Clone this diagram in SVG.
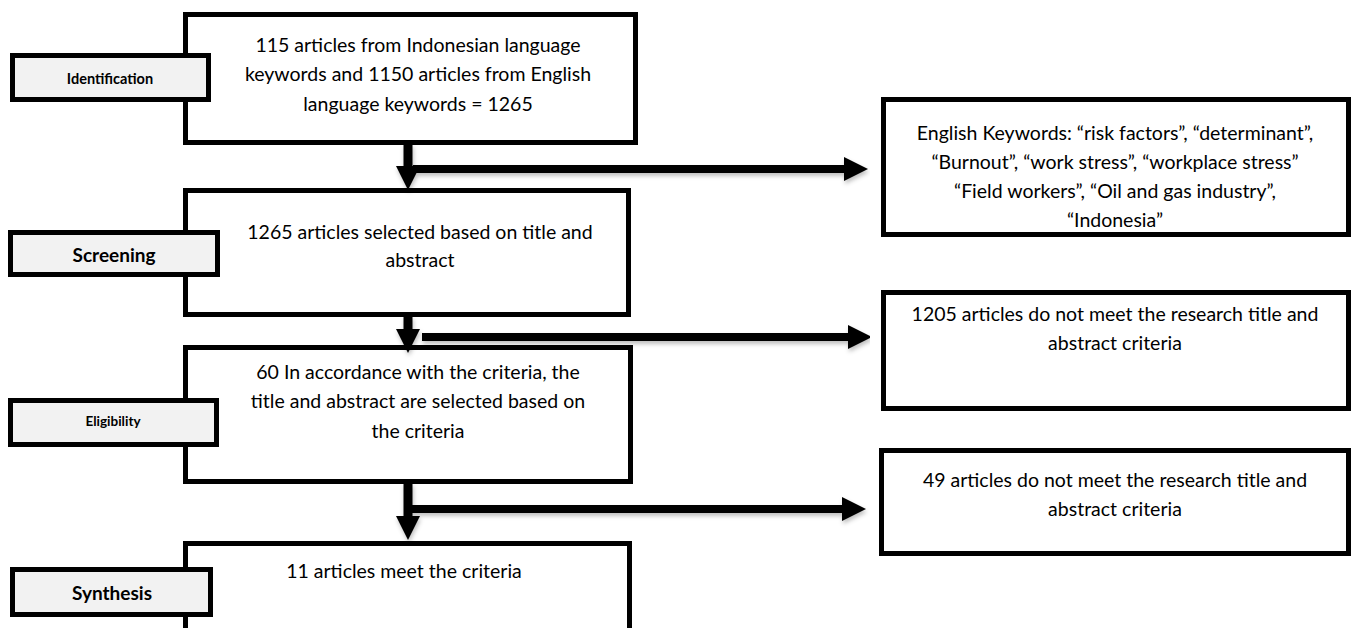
<svg xmlns="http://www.w3.org/2000/svg" width="1357" height="628" viewBox="0 0 1357 628">
<style>
.box{fill:#fff;stroke:#000;stroke-width:5}
.lab{fill:#f2f2f2;stroke:#000;stroke-width:5}
.t{font-family:Lato,"Liberation Sans",sans-serif;font-size:19.5px;fill:#000;text-anchor:middle;dominant-baseline:central}
.b{font-family:Lato,"Liberation Sans",sans-serif;font-weight:bold;fill:#000;text-anchor:middle;dominant-baseline:central}
.c{stroke:#000;fill:none}
</style>
<defs>
<marker id="ah" markerUnits="userSpaceOnUse" markerWidth="24" markerHeight="24" refX="0" refY="12" orient="auto" viewBox="0 0 24 24">
<path d="M0,0 L24,12 L0,24 z" fill="#000"/>
</marker>
<filter id="sh" x="-5%" y="-20%" width="110%" height="160%">
<feDropShadow dx="1" dy="3" stdDeviation="2" flood-color="#000" flood-opacity="0.25"/>
</filter>
</defs>
<rect width="1357" height="628" fill="#fff"/>

<g id="n1">
<rect class="box" x="185.5" y="14.5" width="450" height="128"/>
<text class="t" x="418" y="44">115 articles from Indonesian language</text>
<text class="t" x="418" y="73">keywords and 1150 articles from English</text>
<text class="t" x="418" y="103">language keywords = 1265</text>
</g>
<g id="l1">
<rect class="lab" x="12.5" y="55.5" width="196" height="44"/>
<text class="b" x="110" y="78" font-size="14.5">Identification</text>
</g>

<g id="n2">
<rect class="box" x="185.5" y="190.5" width="443" height="124"/>
<text class="t" x="420" y="231">1265 articles selected based on title and</text>
<text class="t" x="420" y="259">abstract</text>
</g>
<g id="l2">
<rect class="lab" x="10.5" y="232.5" width="207" height="42"/>
<text class="b" x="114" y="254" font-size="19">Screening</text>
</g>

<g id="n3">
<rect class="box" x="185.5" y="347.5" width="445" height="134"/>
<text class="t" x="418" y="371">60 In accordance with the criteria, the</text>
<text class="t" x="418" y="400">title and abstract are selected based on</text>
<text class="t" x="418" y="430">the criteria</text>
</g>
<g id="l3">
<rect class="lab" x="10.5" y="400.5" width="206" height="44"/>
<text class="b" x="113" y="421" font-size="13.5">Eligibility</text>
</g>

<g id="n4">
<path class="box" d="M185.5,640 L185.5,543.5 L629.5,543.5 L629.5,640"/>
<text class="t" x="404" y="570">11 articles meet the criteria</text>
</g>
<g id="l4">
<rect class="lab" x="12.5" y="569.5" width="198" height="45"/>
<text class="b" x="112" y="592" font-size="19">Synthesis</text>
</g>

<g id="r1">
<rect class="box" x="883.5" y="99.5" width="465" height="135"/>
<text class="t" x="1115" y="132">English Keywords: “risk factors”, “determinant”,</text>
<text class="t" x="1115" y="161">“Burnout”, “work stress”, “workplace stress”</text>
<text class="t" x="1115" y="190">“Field workers”, “Oil and gas industry”,</text>
<text class="t" x="1115" y="219">“Indonesia”</text>
</g>
<g id="r2">
<rect class="box" x="883.5" y="292.5" width="465" height="116"/>
<text class="t" x="1115" y="313">1205 articles do not meet the research title and</text>
<text class="t" x="1115" y="342">abstract criteria</text>
</g>
<g id="r3">
<rect class="box" x="881.5" y="450.5" width="467" height="103"/>
<text class="t" x="1115" y="479">49 articles do not meet the research title and</text>
<text class="t" x="1115" y="508">abstract criteria</text>
</g>

<g id="connectors" filter="url(#sh)">
<line class="c" x1="408" y1="144" x2="408" y2="166" stroke-width="9" marker-end="url(#ah)"/>
<line class="c" x1="413" y1="169" x2="844" y2="169" stroke-width="8" marker-end="url(#ah)"/>
<line class="c" x1="408" y1="316" x2="408" y2="329" stroke-width="9" marker-end="url(#ah)"/>
<line class="c" x1="422" y1="337" x2="848" y2="337" stroke-width="8" marker-end="url(#ah)"/>
<line class="c" x1="408" y1="483" x2="408" y2="516" stroke-width="9" marker-end="url(#ah)"/>
<line class="c" x1="412" y1="509" x2="842" y2="509" stroke-width="8" marker-end="url(#ah)"/>
</g>
</svg>
